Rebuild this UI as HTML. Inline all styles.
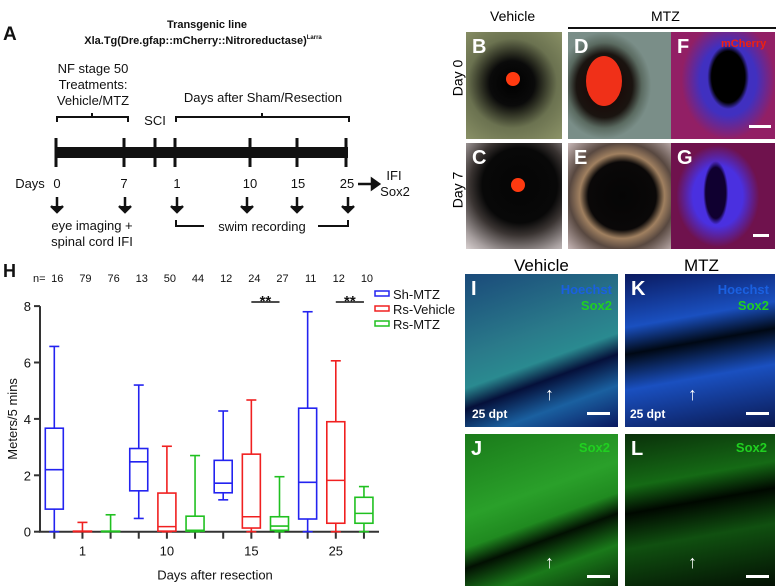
<!DOCTYPE html>
<html><head><meta charset="utf-8"><style>
body{margin:0;background:#fff;width:778px;height:588px;overflow:hidden;position:relative;font-family:"Liberation Sans",sans-serif}
.p{position:absolute;overflow:hidden}
.lbl{position:absolute;color:#fff;font-weight:bold;font-size:20px}
</style></head><body>
<svg width="440" height="255" style="position:absolute;left:0;top:0" font-family="Liberation Sans, sans-serif" font-size="13" fill="#111">
<text x="3" y="40" font-size="19" font-weight="bold">A</text>
<text x="207" y="28" font-size="11" font-weight="bold" text-anchor="middle">Transgenic line</text>
<text x="203" y="44" font-size="11" font-weight="bold" text-anchor="middle">Xla.Tg(Dre.gfap::mCherry::Nitroreductase)<tspan font-size="6" dy="-5">Larra</tspan></text>
<g text-anchor="middle">
<text x="93" y="73">NF stage 50</text><text x="93" y="89">Treatments:</text><text x="93" y="105">Vehicle/MTZ</text>
<text x="263" y="102">Days after Sham/Resection</text>
<text x="155" y="125">SCI</text>
</g>
<g fill="none" stroke="#111" stroke-width="2">
<path d="M57 122 v-5 h35 v-4 v4 h36 v5"/>
<path d="M176 122 v-5 h86 v-4 v4 h87 v5"/>
<path d="M176 220 v6 h28 M318 226 h30 v-6"/>
</g>
<rect x="55" y="147" width="293" height="11" fill="#111"/>
<g stroke="#111" stroke-width="3">
<line x1="56" y1="138" x2="56" y2="167"/><line x1="124" y1="138" x2="124" y2="167"/><line x1="155" y1="138" x2="155" y2="167"/><line x1="175" y1="138" x2="175" y2="167"/><line x1="250" y1="138" x2="250" y2="167"/><line x1="297" y1="138" x2="297" y2="167"/><line x1="346" y1="138" x2="346" y2="167"/>
</g>
<g text-anchor="middle"><text x="30" y="188">Days</text><text x="57" y="188">0</text><text x="124" y="188">7</text><text x="177" y="188">1</text><text x="250" y="188">10</text><text x="298" y="188">15</text><text x="347" y="188">25</text>
<text x="92" y="230">eye imaging +</text><text x="92" y="246">spinal cord IFI</text><text x="262" y="231">swim recording</text>
<text x="394" y="180">IFI</text><text x="395" y="196">Sox2</text></g>
<g stroke="#111" stroke-width="2.5" fill="#111">
<path d="M358 184 h16"/><path d="M372 179 l7 5 l-7 5z"/>
<path d="M57 197 v14 M51 206 l6 6 l6 -6"/><path d="M125 197 v14 M119 206 l6 6 l6 -6"/><path d="M177 197 v14 M171 206 l6 6 l6 -6"/><path d="M247 197 v14 M241 206 l6 6 l6 -6"/><path d="M297 197 v14 M291 206 l6 6 l6 -6"/><path d="M348 197 v14 M342 206 l6 6 l6 -6"/>
</g>
</svg>

<svg id="chart" width="462" height="330" style="position:absolute;left:0;top:258" font-family="Liberation Sans, sans-serif" font-size="13" fill="#111"></svg>

<!-- eye panels -->
<div style="position:absolute;top:8px;left:490px;font-size:14px">Vehicle</div>
<div style="position:absolute;left:651px;top:8px;font-size:14px">MTZ</div>
<div style="position:absolute;left:568px;top:27px;width:208px;height:2px;background:#111"></div>
<div style="position:absolute;left:439px;top:70px;transform:rotate(-90deg);font-size:14px">Day 0</div>
<div style="position:absolute;left:439px;top:182px;transform:rotate(-90deg);font-size:14px">Day 7</div>
<div class="p" style="left:466px;top:32px;width:96px;height:107px;background:radial-gradient(circle at 48% 48%,#000 0,#0a0a0a 30%,#2a2c20 40%,#6b7250 60%,#8c9368 100%)"><div style="position:absolute;left:40px;top:40px;width:14px;height:14px;border-radius:50%;background:#ff3a10"></div><span class="lbl" style="left:6px;top:4px">B</span></div>
<div class="p" style="left:568px;top:32px;width:104px;height:107px;background:radial-gradient(ellipse 45% 50% at 35% 50%,#1a0000 0,#1a1410 60%,#5a6a60 80%,#7a8e88 100%)"><div style="position:absolute;left:18px;top:24px;width:36px;height:50px;border-radius:50%;background:#f03018"></div><span class="lbl" style="left:6px;top:4px">D</span></div>
<div class="p" style="left:671px;top:32px;width:104px;height:107px;background:radial-gradient(ellipse 20% 30% at 55% 42%,#000 0,#000 80%,#4030c0 100%),#3a1080"><div style="position:absolute;left:0;top:0;width:100%;height:100%;background:radial-gradient(ellipse 45% 55% at 55% 45%,transparent 0,transparent 60%,rgba(200,20,40,.6) 100%)"></div><div style="position:absolute;left:50px;top:6px;color:#f02010;font-size:11px;font-weight:bold">mCherry</div><div style="position:absolute;left:78px;top:93px;width:22px;height:3px;background:#fff"></div><span class="lbl" style="left:6px;top:4px">F</span></div>
<div class="p" style="left:466px;top:143px;width:96px;height:106px;background:radial-gradient(circle at 56% 40%,#050505 0,#080808 45%,#3a3432 60%,#a8a0a0 85%,#d8d0d0 100%)"><div style="position:absolute;left:45px;top:35px;width:14px;height:14px;border-radius:50%;background:#ff3a10"></div><span class="lbl" style="left:6px;top:4px">C</span></div>
<div class="p" style="left:568px;top:143px;width:104px;height:106px;background:radial-gradient(circle at 52% 50%,#050505 0,#0a0808 45%,#a08060 56%,#584840 70%,#c8b8b8 100%)"><span class="lbl" style="left:6px;top:4px">E</span></div>
<div class="p" style="left:671px;top:143px;width:104px;height:106px;background:radial-gradient(ellipse 12% 30% at 43% 47%,#100030 0,#100030 80%,#4a30e0 100%),#500a40"><div style="position:absolute;left:0;top:0;width:100%;height:100%;background:radial-gradient(ellipse 40% 48% at 45% 50%,transparent 0,transparent 60%,rgba(120,10,40,.8) 100%)"></div><div style="position:absolute;left:82px;top:91px;width:16px;height:3px;background:#fff"></div><span class="lbl" style="left:6px;top:4px">G</span></div>

<!-- sox2 panels -->
<div style="position:absolute;left:514px;top:256px;font-size:17px">Vehicle</div>
<div style="position:absolute;left:684px;top:256px;font-size:17px">MTZ</div>
<div class="p" style="left:465px;top:274px;width:153px;height:153px;background:linear-gradient(160deg,#1a4a7a 0,#2a7a8a 40%,#2a8a90 55%,#05103a 65%,#1a60a0 80%,#0a1860 100%)"><div style="position:absolute;right:6px;top:8px;color:#1a60e0;font-size:13px;font-weight:bold">Hoechst</div><div style="position:absolute;right:6px;top:24px;color:#20d020;font-size:13px;font-weight:bold">Sox2</div><div style="position:absolute;left:7px;bottom:6px;color:#fff;font-size:12px;font-weight:bold">25 dpt</div><div style="position:absolute;left:80px;top:110px;color:#fff;font-size:18px;font-weight:bold">↑</div><div style="position:absolute;left:122px;top:138px;width:23px;height:3px;background:#fff"></div><span class="lbl" style="left:6px;top:4px">I</span></div>
<div class="p" style="left:625px;top:274px;width:150px;height:153px;background:linear-gradient(170deg,#0a1a60 0,#1a50c0 30%,#000814 45%,#1a50c0 65%,#0a1850 100%)"><div style="position:absolute;right:6px;top:8px;color:#1a60e0;font-size:13px;font-weight:bold">Hoechst</div><div style="position:absolute;right:6px;top:24px;color:#20d020;font-size:13px;font-weight:bold">Sox2</div><div style="position:absolute;left:5px;bottom:6px;color:#fff;font-size:12px;font-weight:bold">25 dpt</div><div style="position:absolute;left:63px;top:110px;color:#fff;font-size:18px;font-weight:bold">↑</div><div style="position:absolute;left:121px;top:138px;width:23px;height:3px;background:#fff"></div><span class="lbl" style="left:6px;top:4px">K</span></div>
<div class="p" style="left:465px;top:434px;width:153px;height:152px;background:linear-gradient(160deg,#1a7a1a 0,#2aa02a 40%,#208a20 55%,#021002 65%,#1a7a1a 80%,#0a300a 100%)"><div style="position:absolute;right:8px;top:6px;color:#20d020;font-size:13px;font-weight:bold">Sox2</div><div style="position:absolute;left:80px;top:118px;color:#fff;font-size:18px;font-weight:bold">↑</div><div style="position:absolute;left:122px;top:141px;width:23px;height:3px;background:#fff"></div><span class="lbl" style="left:6px;top:4px">J</span></div>
<div class="p" style="left:625px;top:434px;width:150px;height:152px;background:linear-gradient(170deg,#0a300a 0,#156a15 30%,#000800 45%,#105010 65%,#031003 100%)"><div style="position:absolute;right:8px;top:6px;color:#20d020;font-size:13px;font-weight:bold">Sox2</div><div style="position:absolute;left:63px;top:118px;color:#fff;font-size:18px;font-weight:bold">↑</div><div style="position:absolute;left:121px;top:141px;width:23px;height:3px;background:#fff"></div><span class="lbl" style="left:6px;top:4px">L</span></div>

<script>
const days=["1","10","15","25"];
const groups=["Sh-MTZ","Rs-Vehicle","Rs-MTZ"];
const colors=["#2323f0","#f02020","#20c020"];
const nValues=[16,79,76,13,50,44,12,24,27,11,12,10];
const mins=[0,0,0, 0.47,0,0, 1.13,0,0, 0,0,0];
const q1s=[0.8,0,0, 1.45,0.02,0.02, 1.38,0.13,0.05, 0.45,0.3,0.3];
const medians=[2.2,0,0, 2.48,0.18,0.05, 1.72,0.53,0.2, 1.75,1.82,0.65];
const q3s=[3.67,0.02,0.02, 2.95,1.37,0.55, 2.53,2.75,0.53, 4.38,3.9,1.22];
const maxs=[6.57,0.33,0.6, 5.2,3.03,2.7, 4.28,4.67,1.95, 7.8,6.06,1.6];
const yTicks=[0,2,4,6,8];
const sigDays=["15","25"];
const svg=document.getElementById('chart');
const NS='http://www.w3.org/2000/svg';
const top0=258;
const y=v=>531.7-top0-v*28.2;
const x=i=>54.3+i*28.15;
function mk(tag,attrs,parent){const e=document.createElementNS(NS,tag);for(const k in attrs)e.setAttribute(k,attrs[k]);(parent||svg).appendChild(e);return e;}
let t=mk('text',{x:3,y:19,'font-size':18,'font-weight':'bold'});t.textContent='H';


t=mk('text',{x:33,y:24,'font-size':11});t.textContent='n=';


nValues.forEach((n,i)=>{const e=mk('text',{x:x(i)+3,y:24,'font-size':11,'text-anchor':'middle'});e.textContent=n;

});
let ax=mk('line',{x1:40,y1:y(8),x2:40,y2:y(0),stroke:'#333','stroke-width':2});


ax=mk('line',{x1:39,y1:y(0),x2:379,y2:y(0),stroke:'#333','stroke-width':2});


yTicks.forEach(v=>{mk('line',{x1:34,y1:y(v),x2:40,y2:y(v),stroke:'#333','stroke-width':2});const e=mk('text',{x:31,y:y(v)+5,'text-anchor':'end','font-size':13});e.textContent=v;

});
for(let i=0;i<12;i++)mk('line',{x1:x(i),y1:y(0),x2:x(i),y2:y(0)+7,stroke:'#333','stroke-width':2});
days.forEach((d,j)=>{const e=mk('text',{x:x(j*3+1),y:y(0)+24,'text-anchor':'middle','font-size':13});e.textContent=d;

});
t=mk('text',{x:215,y:y(0)+48,'text-anchor':'middle','font-size':13});t.textContent='Days after resection';


t=mk('text',{x:0,y:0,'text-anchor':'middle','font-size':13,transform:`translate(17,${y(4)}) rotate(-90)`});t.textContent='Meters/5 mins';


for(let i=0;i<12;i++){
 const c=colors[i%3],cx=x(i),w=9;
 const g=mk('g',{stroke:c,'stroke-width':1.6,fill:'none'});
 
 
 mk('line',{x1:cx,y1:y(maxs[i]),x2:cx,y2:y(q3s[i])},g);
 mk('line',{x1:cx,y1:y(q1s[i]),x2:cx,y2:y(mins[i])},g);
 mk('line',{x1:cx-5,y1:y(maxs[i]),x2:cx+5,y2:y(maxs[i])},g);
 mk('line',{x1:cx-5,y1:y(mins[i]),x2:cx+5,y2:y(mins[i])},g);
 mk('rect',{x:cx-w,y:y(q3s[i]),width:2*w,height:Math.max(0.5,y(q1s[i])-y(q3s[i]))},g);
 mk('line',{x1:cx-w,y1:y(medians[i]),x2:cx+w,y2:y(medians[i])},g);
}
sigDays.forEach(d=>{const j=days.indexOf(d);const a=x(j*3+1),b=x(j*3+2);
 const l=mk('line',{x1:a,y1:44,x2:b,y2:44,stroke:'#111','stroke-width':1.5});
 
 
 const e=mk('text',{x:(a+b)/2,y:48,'text-anchor':'middle','font-size':15,'font-weight':'bold'});e.textContent='**';
 
 });
groups.forEach((gname,k)=>{const yy=36+k*15;
 const r=mk('rect',{x:375,y:yy-3,width:14,height:5,fill:'none',stroke:colors[k],'stroke-width':1.5});
 
 
 const e=mk('text',{x:393,y:yy+5,'font-size':13});e.textContent=gname;
 
 });
</script>
</body></html>
